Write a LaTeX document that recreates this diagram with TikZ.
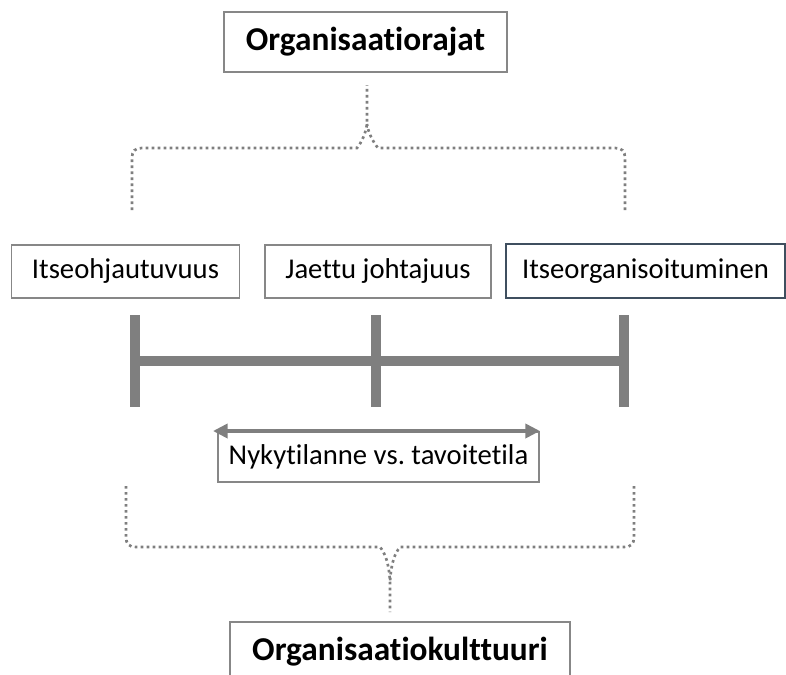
\documentclass[tikz,border=0pt]{standalone}
\usepackage{fontspec}
\setmainfont{Carlito}[Ligatures=NoCommon]
\usetikzlibrary{arrows.meta}
\frenchspacing
\definecolor{linegray}{HTML}{7F7F7F}
\definecolor{boxgray}{HTML}{878787}
\definecolor{boxdark}{HTML}{3F4F5F}
\tikzset{
  plainbox/.style={draw=boxgray, line width=1.4pt, fill=white, inner sep=0pt, align=center, font=\fontsize{21.5}{26}\selectfont},
  titlebox/.style={plainbox, font=\fontsize{25}{30}\selectfont\bfseries},
  dotline/.style={draw=linegray, line width=2pt, dash pattern=on 2pt off 2.5pt},
  barline/.style={draw=linegray, line width=8.2pt},
  twoarrow/.style={draw=linegray, line width=3pt, {Triangle[length=11pt,width=10.5pt]}-{Triangle[length=11pt,width=10.5pt]}}
}
\begin{document}
\begin{tikzpicture}[x=0.75pt,y=-0.75pt]
\useasboundingbox (0,0) rectangle (786,675);
% top title
\node[titlebox, minimum width=283*0.75pt, minimum height=60*0.75pt] (top) at (365.5,42) {Organisaatiorajat};
% three concept boxes
\node[plainbox, minimum width=228*0.75pt, minimum height=53*0.75pt] (b1) at (125.5,271.5) {Itseohjautuvuus};
\node[plainbox, minimum width=226*0.75pt, minimum height=53*0.75pt] (b2) at (378,271.5) {Jaettu johtajuus};
\node[plainbox, draw=boxdark, minimum width=279*0.75pt, minimum height=54*0.75pt] (b3) at (645.5,271) {Itseorganisoituminen};
% bars
\coordinate (v1t) at (135,315); \coordinate (v1b) at (135,407);
\coordinate (v2t) at (376,315); \coordinate (v2b) at (376,407);
\coordinate (v3t) at (624,315); \coordinate (v3b) at (624,407);
\coordinate (hl) at (135,361); \coordinate (hr) at (624,361);
\draw[barline] (v1t) -- (v1b);
\draw[barline] (v2t) -- (v2b);
\draw[barline] (v3t) -- (v3b);
\draw[barline] (hl) -- (hr);
% comparison box and arrow
\node[plainbox, minimum width=321*0.75pt, minimum height=50*0.75pt] (nyky) at (378.5,457) {Nykytilanne vs.\ tavoitetila};
\coordinate (al) at (213,431); \coordinate (ar) at (540,431);
\draw[twoarrow] (al) -- (ar);
% bottom title
\node[titlebox, minimum width=340*0.75pt, minimum height=60*0.75pt] (bot) at (400,652) {Organisaatiokulttuuri};
% top brace
\coordinate (tl) at (132,210); \coordinate (tr) at (625,210); \coordinate (tp) at (367,85);
\draw[dotline] (tl) -- (132,158) .. controls (132,151) and (135,148) .. (142,148) -- (357,148)
  .. controls (362,142) and (366,132) .. (367,124) -- (tp);
\draw[dotline] (tr) -- (625,158) .. controls (625,151) and (622,148) .. (615,148) -- (378,148)
  .. controls (373,142) and (368,132) .. (367,124);
% bottom brace
\coordinate (bl) at (126,486); \coordinate (br) at (634,486); \coordinate (bp) at (390,612);
\draw[dotline] (bl) -- (126,537) .. controls (126,544) and (129,547) .. (136,547) -- (380,547)
  .. controls (385,553) and (389,563) .. (390,582) -- (bp);
\draw[dotline] (br) -- (634,537) .. controls (634,544) and (631,547) .. (624,547) -- (400,547)
  .. controls (395,553) and (391,563) .. (390,582);
\end{tikzpicture}
\end{document}
